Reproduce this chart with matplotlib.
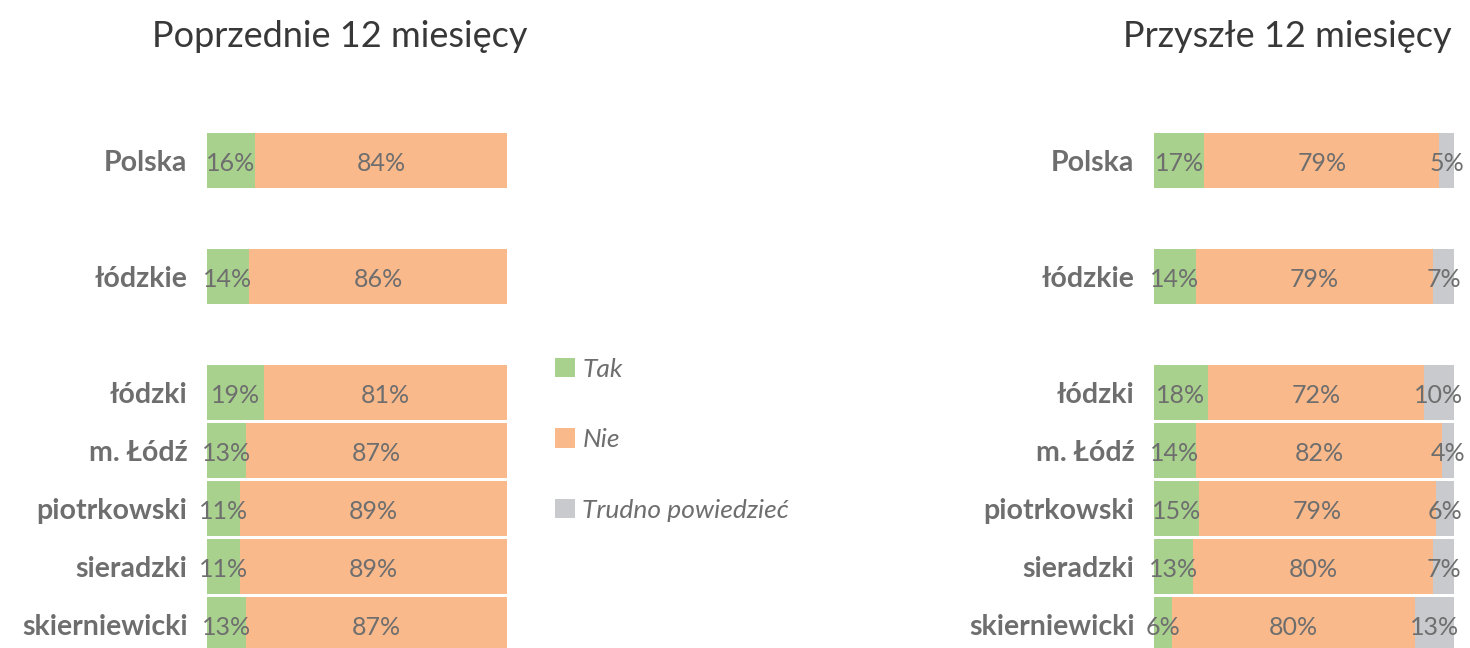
import numpy as np
import matplotlib
matplotlib.use("Agg")
import matplotlib.pyplot as plt

plt.rcParams['font.family'] = ['Lato', 'DejaVu Sans']

regions = ["Polska", "łódzkie", "łódzki", "m. Łódź", "piotrkowski", "sieradzki", "skierniewicki"]
series_names = ["Tak", "Nie", "Trudno powiedzieć"]

# Poprzednie 12 miesiecy
prev_tak = [16, 14, 19, 13, 11, 11, 13]
prev_nie = [84, 86, 81, 87, 89, 89, 87]
prev_trudno = [0, 0, 0, 0, 0, 0, 0]

# Przyszle 12 miesiecy
next_tak = [17, 14, 18, 14, 15, 13, 6]
next_nie = [79, 79, 72, 82, 79, 80, 80]
next_trudno = [5, 7, 10, 4, 6, 7, 13]

colors = ['#a9d18e', '#f9b98b', '#c8cacd']
txt_gray = '#6e6e6e'
rows = [0, 2, 4, 5, 6, 7, 8]

fig = plt.figure(figsize=(14.7, 6.48), dpi=100)
ax1 = fig.add_axes([207/1470, 0, 300/1470, 1])
ax2 = fig.add_axes([1154/1470, 0, 300/1470, 1])


def draw(ax, data):
    data = np.array(data, dtype=float)
    tot = data.sum(axis=0)
    shares = data / tot * 100
    left = np.zeros(len(rows))
    conts = []
    for k in range(len(data)):
        c = ax.barh(rows, shares[k], left=left, height=0.95, color=colors[k],
                    label=series_names[k])
        conts.append(c)
        for i in range(len(rows)):
            if data[k][i] > 0:
                ax.text(left[i] + shares[k][i] / 2, rows[i] + 0.05, f"{data[k][i]:.0f}%",
                        ha='center', va='center', fontsize=18, color=txt_gray)
        left += shares[k]
    ax.set_xlim(0, 100)
    ax.set_ylim(8.41, -2.76)
    ax.set_yticks(rows)
    ax.set_yticklabels(regions, fontsize=20.5, fontweight='bold', color=txt_gray)
    ax.tick_params(axis='y', length=0, pad=14)
    ax.set_xticks([])
    for s in ax.spines.values():
        s.set_visible(False)
    return conts


draw(ax1, [prev_tak, prev_nie, prev_trudno])
conts = draw(ax2, [next_tak, next_nie, next_trudno])

fig.text(0.231, 0.943, "Poprzednie 12 miesięcy", ha='center', va='center',
         fontsize=26, fontweight='normal', color='#383838')
fig.text(0.8755, 0.943, "Przyszłe 12 miesięcy", ha='center', va='center',
         fontsize=26, fontweight='normal', color='#383838')

leg = fig.legend(handles=conts, labels=series_names, loc='upper left',
                 bbox_to_anchor=(531/1470, 1 - 334/648), frameon=False,
                 handlelength=0.75, handleheight=0.75, handletextpad=0.3,
                 labelspacing=1.8, prop={'size': 19, 'style': 'italic'})
for t in leg.get_texts():
    t.set_color(txt_gray)

fig.savefig("out.png", dpi=100, facecolor='white')
